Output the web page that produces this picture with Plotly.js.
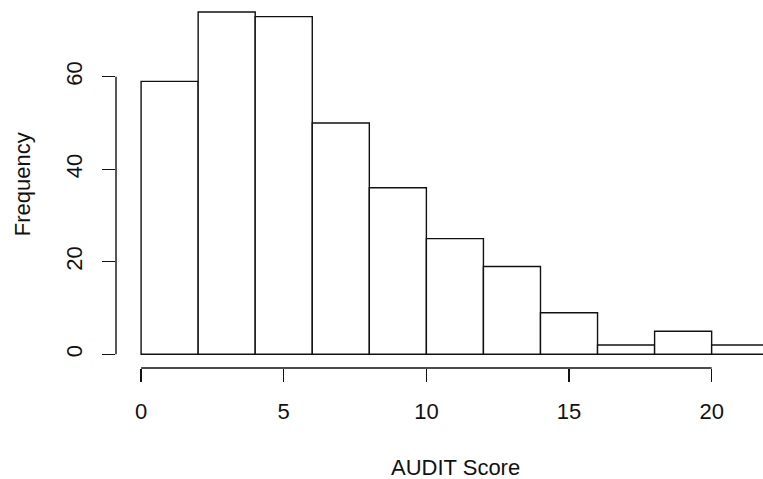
<!DOCTYPE html>
<html>
<head>
<meta charset="utf-8">
<script src="https://cdn.plot.ly/plotly-3.0.1.min.js"></script>
<style>html,body{margin:0;padding:0;background:#fff;}#chart{width:763px;height:479px;}</style>
</head>
<body>
<div id="chart"></div>
<script>
// Histogram bin edges and counts (AUDIT Score)
const breaks = [0, 2, 4, 6, 8, 10, 12, 14, 16, 18, 20, 22];
const counts = [59, 74, 73, 50, 36, 25, 19, 9, 2, 5, 2];
const xTicks = [0, 5, 10, 15, 20];
const yTicks = [0, 20, 40, 60];
const xTitle = "AUDIT Score";
const yTitle = "Frequency";

const mids = counts.map((c, i) => (breaks[i] + breaks[i + 1]) / 2);
const widths = counts.map((c, i) => breaks[i + 1] - breaks[i]);

const font = {family: "Liberation Sans, Arial, sans-serif", size: 22, color: "#111"};

const trace = {
  type: "bar",
  x: mids,
  y: counts,
  width: widths,
  marker: {color: "#ffffff", line: {color: "#111111", width: 1.4}},
  hoverinfo: "skip"
};

const layout = {
  width: 763,
  height: 479,
  margin: {l: 116, r: 0, t: 0, b: 111},
  paper_bgcolor: "#fff",
  plot_bgcolor: "#fff",
  showlegend: false,
  bargap: 0,
  font: font,
  xaxis: {
    range: [-0.88, 21.8],
    tickmode: "array",
    tickvals: xTicks,
    ticktext: xTicks.map(String),
    ticks: "outside",
    ticklen: 13,
    tickwidth: 1.4,
    tickcolor: "#111",
    showline: false,
    showgrid: false,
    zeroline: false,
    ticklabelstandoff: 11,
    tickfont: font
  },
  yaxis: {
    range: [-2.96, 76.6],
    tickmode: "array",
    tickvals: yTicks,
    ticktext: yTicks.map(String),
    tickangle: -90,
    ticks: "outside",
    ticklen: 13,
    tickwidth: 1.4,
    tickcolor: "#111",
    showline: false,
    showgrid: false,
    zeroline: false,
    ticklabelstandoff: 11,
    tickfont: font
  },
  shapes: [
    {type: "line", xref: "x", yref: "paper", x0: xTicks[0], x1: xTicks[xTicks.length - 1], y0: 0, y1: 0,
     line: {color: "#111", width: 1.4}},
    {type: "line", xref: "paper", yref: "y", x0: 0, x1: 0, y0: yTicks[0], y1: yTicks[yTicks.length - 1],
     line: {color: "#111", width: 1.4}}
  ],
  annotations: [
    {text: xTitle, xref: "paper", yref: "paper", x: 0.524, y: -0.27, xanchor: "center", yanchor: "middle",
     showarrow: false, font: font},
    {text: yTitle, xref: "paper", yref: "paper", x: -0.145, y: 0.5, xanchor: "center", yanchor: "middle",
     textangle: -90, showarrow: false, font: font}
  ]
};

Plotly.newPlot("chart", [trace], layout, {displayModeBar: false, staticPlot: true});
</script>
</body>
</html>
